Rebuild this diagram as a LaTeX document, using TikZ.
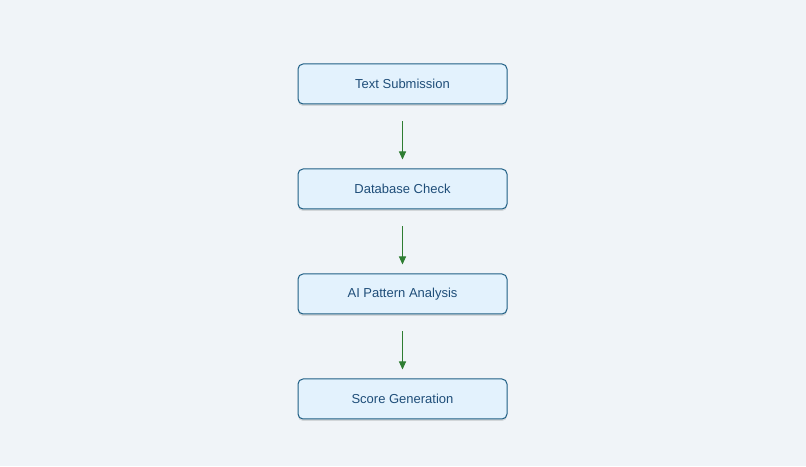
\documentclass[tikz,border=0pt]{standalone}
\usepackage{fontspec}
\setmainfont{Liberation Sans}
\usetikzlibrary{arrows.meta,shadows}
\definecolor{bg}{HTML}{F0F4F8}
\definecolor{boxfill}{HTML}{E3F2FD}
\definecolor{boxdraw}{HTML}{1F5F85}
\definecolor{boxtext}{HTML}{1F4E79}
\definecolor{arrowgreen}{HTML}{2E7D32}
\tikzset{
  stepbox/.style={draw=boxdraw, fill=boxfill, line width=1pt, rounded corners=5pt,
    minimum width=209pt, minimum height=40pt, inner sep=0pt,
    text=boxtext, font=\fontsize{13}{15}\selectfont,
    drop shadow={shadow xshift=0pt, shadow yshift=-2pt, opacity=0.12, fill=black}},
  flow/.style={draw=arrowgreen, line width=1pt, -{Triangle[length=8pt,width=7pt]},
    shorten <=17pt, shorten >=9pt}
}
\begin{document}
\begin{tikzpicture}[x=1pt,y=1pt]
\fill[bg] (0,0) rectangle (806,466);
\useasboundingbox (0,0) rectangle (806,466);
\node[stepbox] (a) at (402.5,382) {Text Submission};
\node[stepbox] (b) at (402.5,277) {Database Check};
\node[stepbox] (c) at (402.5,172) {AI Pattern Analysis};
\node[stepbox] (d) at (402.5,67) {Score Generation};
\draw[flow] (a.south) -- (b.north);
\draw[flow] (b.south) -- (c.north);
\draw[flow] (c.south) -- (d.north);
\end{tikzpicture}
\end{document}
